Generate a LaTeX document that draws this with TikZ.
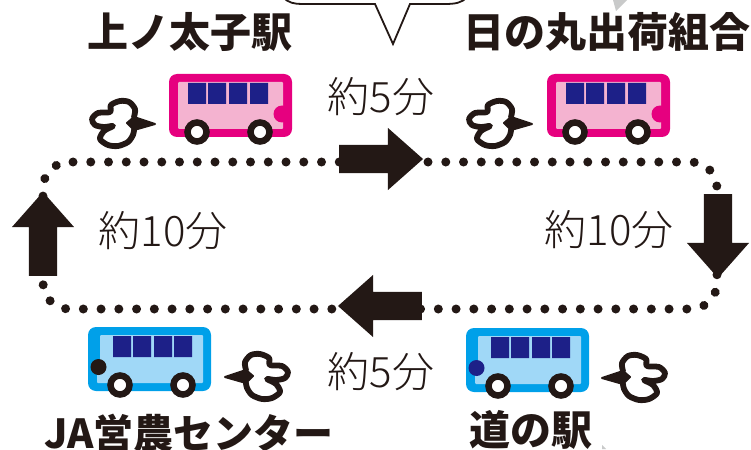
\documentclass[tikz,border=0pt]{standalone}
\usepackage{fontspec}
\setmainfont{Noto Sans CJK JP}
\newfontfamily\lightjp{Noto Sans CJK JP Light}
\usetikzlibrary{shapes.arrows}

\definecolor{inkblack}{RGB}{35,24,21}
\definecolor{navywin}{RGB}{29,32,136}
\definecolor{pinkbody}{RGB}{230,0,127}
\definecolor{pinkpale}{RGB}{244,179,208}
\definecolor{bluebody}{RGB}{0,160,233}
\definecolor{bluepale}{RGB}{160,216,247}
\definecolor{tipgray}{RGB}{201,202,202}

\tikzset{
    station/.style={font=\fontsize{41}{41}\selectfont\bfseries, text=inkblack, inner sep=0pt},
    minutes/.style={font=\lightjp\fontsize{42}{42}\selectfont, text=inkblack, inner sep=0pt},
    route/.style={inkblack, line width=9pt, line cap=round, dash pattern=on 0.01pt off 17.74pt, rounded corners=26pt},
    dirarrow/.style={single arrow, fill=inkblack, inner sep=0pt, outer sep=0pt, text width=0pt, text height=14pt, text depth=14pt,
        minimum height=84pt, single arrow head extend=17pt, single arrow tip angle=83, single arrow head indent=0pt},
    wheel/.style={draw=inkblack, fill=white, line width=6.5pt},
    pics/pinkbus/.style={code={
        \fill[pinkbody, rounded corners=8pt] (0,0) rectangle (123,63);
        \fill[pinkpale, rounded corners=1pt] (9,8) rectangle (114,55);
        \fill[navywin] (19,9) rectangle (37,30) (39,9) rectangle (57,30) (60,9) rectangle (78,30) (81,9) rectangle (99,30);
        \begin{scope}
            \clip (0,0) rectangle (123,63);
            \fill[pinkbody] (113,40) circle (8.5pt);
        \end{scope}
        \draw[wheel] (28,58) circle (9.5pt);
        \draw[wheel] (91,58) circle (9.5pt);
    }},
    pics/bluebus/.style={code={
        \fill[bluebody, rounded corners=8pt] (0,0) rectangle (123,64);
        \fill[bluepale, rounded corners=1pt] (12,8) -- (115,8) -- (115,56) -- (9,56) -- (9,40) -- (12,40) -- cycle;
        \fill[navywin] (25,9) rectangle (43,30) (45,9) rectangle (63,30) (66,9) rectangle (84,30) (86,9) rectangle (104,30);
        \fill[#1] (10.5,40) circle (8pt);
        \draw[wheel] (32,58) circle (9.5pt);
        \draw[wheel] (95,58) circle (9.5pt);
    }},
    pics/puff/.style={code={
        \fill[inkblack, draw=inkblack, line width=2pt, line join=round] (-1,0) -- (-22,-7) -- (-29,-1) -- (-22,6) -- cycle;
        \draw[inkblack, line width=5.8pt, line cap=round, line join=round]
            plot[smooth, tension=.5] coordinates {(-22,-7) (-21,-15) (-27,-22) (-36,-23) (-45,-19) (-46,-12) (-58,-11) (-64,-5) (-61,1) (-52,3) (-43,2) (-52,7) (-56,15) (-48,21) (-38,22) (-28,18) (-23,11) (-22,6)};
    }}
}

\begin{document}
\begin{tikzpicture}[x=1pt, y=-1pt]
    \useasboundingbox (0,0) rectangle (751,449);

    % speech bubble cut by the top edge
    \draw[inkblack, line width=1.8pt, fill=white] (283,-3) .. controls (288,3) and (295,4) .. (302,4) -- (375,4) -- (393,44) -- (410,4) -- (445,4) .. controls (455,4) and (462,3) .. (467,-3);
    \fill[tipgray] (613,0) -- (627,0) -- (616,11) -- cycle;
    \fill[tipgray] (602,445) -- (606,449) -- (602,449) -- cycle;

    % dotted loop
    \coordinate (loopstart) at (73,162);
    \coordinate (loopend) at (69,162);
    \coordinate (cornerne) at (717,162);
    \coordinate (cornerse) at (717,309);
    \coordinate (cornersw) at (43,309);
    \coordinate (cornernw) at (43,162);
    \draw[route] (loopstart) -- (cornerne) -- (cornerse) -- (cornersw) -- (cornernw) -- (loopend);

    % direction arrows
    \node[dirarrow] (arrowtop) at (373,159) {};
    \node[dirarrow, rotate=180] (arrowbottom) at (388,306) {};
    \node[dirarrow, rotate=-90] (arrowright) at (718,228) {};
    \node[dirarrow, rotate=90] (arrowleft) at (43,242) {};

    % stations
    \node[station] (kaminotaishi) at (190,32) {上ノ太子駅};
    \node[station] (hinomaru) at (607,32) {日の丸出荷組合};
    \node[station, font=\fontsize{40}{40}\selectfont\bfseries] (janouei) at (189,433) {JA営農センター};
    \node[station] (michinoeki) at (531,430) {道の駅};

    % travel times
    \node[minutes] (timetop) at (381,97) {約5分};
    \node[minutes] (timeright) at (609,230) {約10分};
    \node[minutes] (timeleft) at (163,231) {約10分};
    \node[minutes] (timebottom) at (381,372) {約5分};

    % buses and exhaust
    \pic (busa) at (169,74) {pinkbus};
    \pic (busb) at (547,74) {pinkbus};
    \pic (busc) at (88,327) {bluebus={inkblack}};
    \pic (busd) at (466,328) {bluebus={navywin}};
    \pic (puffa) at (156,124) {puff};
    \pic (puffb) at (533,124) {puff};
    \pic[xscale=-1] (puffc) at (224,377) {puff};
    \pic[xscale=-1] (puffd) at (601,378) {puff};
\end{tikzpicture}
\end{document}
